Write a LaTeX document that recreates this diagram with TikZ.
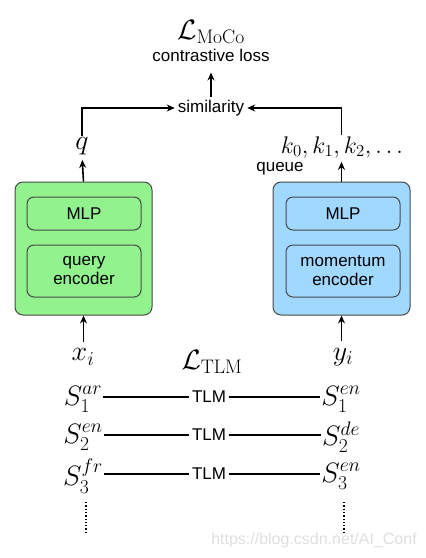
\RequirePackage{fix-cm}
\documentclass[tikz,border=0pt]{standalone}
\usepackage{amsmath,amssymb}
\usepackage[no-math]{fontspec}
\newfontfamily\labelfont{Liberation Sans}
\usepackage{tikz}
\usetikzlibrary{arrows.meta,positioning,calc}
\definecolor{qgreen}{RGB}{146,242,142}
\definecolor{kblue}{RGB}{160,216,255}
\definecolor{edgegray}{RGB}{72,72,72}
\tikzset{
  lbl/.style   = {font=\labelfont\fontsize{17}{19}\selectfont, inner sep=3pt},
  mth/.style   = {font=\fontsize{28}{32}\selectfont, inner sep=1pt},
  outer/.style = {draw=edgegray, line width=1pt, rounded corners=8pt,
                  minimum width=137pt, minimum height=133pt},
  inner/.style = {draw=edgegray, line width=1pt, rounded corners=7pt,
                  align=center, minimum width=114pt,
                  font=\labelfont\fontsize{17}{19}\selectfont},
  ar/.style    = {-{Stealth[length=8pt,width=7pt]}, line width=1.6pt},
  link/.style  = {line width=1.6pt},
}
\begin{document}
\begin{tikzpicture}[x=1pt,y=-1pt]
\useasboundingbox (0,0) rectangle (426,558);
%% ---- loss and similarity ----------------------------------------------
\node[mth] (moco) at (211,32) {$\mathcal{L}_{\mathrm{MoCo}}$};
\node[lbl] (closs) at (211,55) {contrastive loss};
\node[lbl] (sim) at (211,108) {similarity};

%% ---- outputs of both encoders -----------------------------------------
\node[mth] (q) at (82,146) {$q$};
\node[mth, font=\fontsize{24}{28}\selectfont] (keys) at (342,147)
  {$k_0, k_1, k_2, \ldots$};
\node[lbl] (queue) at (280,169) {queue};

%% ---- query encoder ----------------------------------------------------
\node[outer, fill=qgreen] (qbox) at (83.5,248.5) {};
\node[inner, minimum height=33pt] (qmlp) at (84,213.5) {MLP};
\node[inner, minimum height=52pt] (qenc) at (84,271) {query\\encoder};

%% ---- momentum encoder -------------------------------------------------
\node[outer, fill=kblue] (kbox) at (341.5,248.5) {};
\node[inner, minimum height=33pt] (kmlp) at (343,213.5) {MLP};
\node[inner, minimum height=52pt] (kenc) at (343,271) {momentum\\encoder};

%% ---- inputs and TLM pairs ---------------------------------------------
\node[mth] (xi) at (83,357) {$x_i$};
\node[mth] (yi) at (343,357) {$y_i$};
\node[mth] (tlm) at (212,362) {$\mathcal{L}_{\mathrm{TLM}}$};

\node[mth] (s1l) at (83,399) {$S_1^{ar}$};
\node[mth] (s2l) at (83,437) {$S_2^{en}$};
\node[mth] (s3l) at (83,476) {$S_3^{fr}$};
\node[mth] (s1r) at (341,399) {$S_1^{en}$};
\node[mth] (s2r) at (341,437) {$S_2^{de}$};
\node[mth] (s3r) at (341,476) {$S_3^{en}$};
\node[lbl] (t1) at (209,397) {TLM};
\node[lbl] (t2) at (209,435) {TLM};
\node[lbl] (t3) at (209,474) {TLM};

\coordinate (dotl) at (86,502);
\coordinate (dotr) at (344,502);

%% ---- arrows -----------------------------------------------------------
\draw[ar, shorten >=8pt] (sim.north) -- (closs.south);
\draw[ar] (q.north) |- (sim.west);
\draw[ar] (kbox.north |- keys.north) |- (sim.east);

\draw[ar, shorten >=4pt] (qbox.north) -- (q.south);
\draw[ar, shorten >=3pt] (kbox.north) -- (kbox.north |- keys.south);
\draw[ar, shorten <=6pt] (xi.north -| qbox.south) -- (qbox.south);
\draw[ar, shorten <=6pt] (yi.north -| kbox.south) -- (kbox.south);

\foreach \r in {1,2,3}{
  \draw[link] (s\r l.east |- t\r.west) -- (t\r.west);
  \draw[link] (t\r.east) -- (s\r r.west |- t\r.east);
}
\draw[dotted, line width=1.3pt] (dotl) -- ++(0,30);
\draw[dotted, line width=1.3pt] (dotr) -- ++(0,30);

%% watermark of the source page
\node[font=\labelfont\fontsize{16}{18}\selectfont, text=gray!25] (wm)
  at (314,540) {https://blog.csdn.net/AI\_Conf};
\end{tikzpicture}
\end{document}
